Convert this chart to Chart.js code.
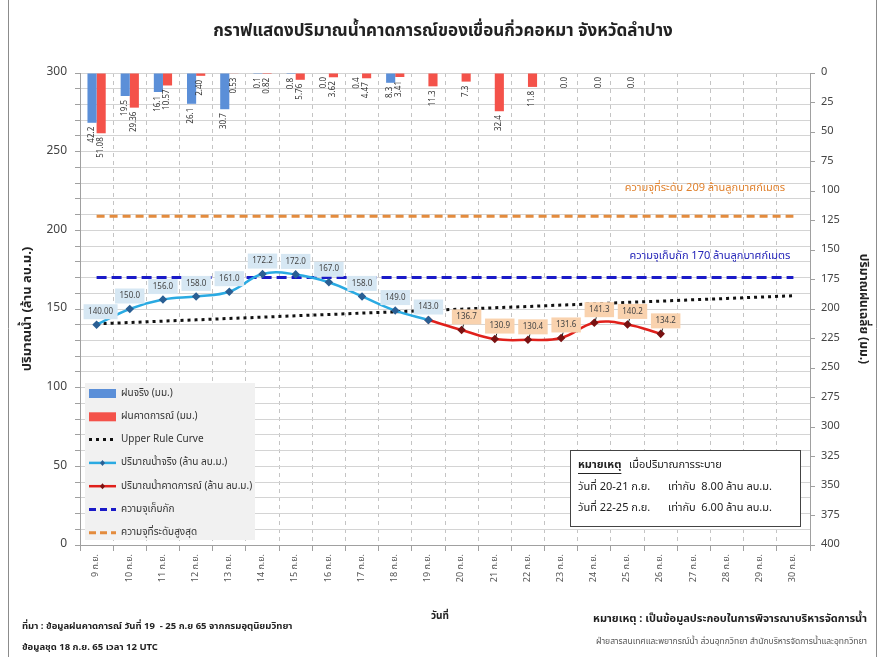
<!DOCTYPE html>
<html>
<head>
<meta charset="utf-8">
<script src="https://cdn.jsdelivr.net/npm/chart.js@4.4.0/dist/chart.umd.min.js"></script>
<style>
  html, body { margin: 0; padding: 0; background: #fff; }
  #wrap { width: 882px; height: 657px; position: relative; }
  canvas { display: block; }
</style>
</head>
<body>
<div id="wrap"><canvas id="damChart" width="882" height="657"></canvas></div>
<script>
// วันที่ (แกน X)
const days = ["9 ก.ย.", "10 ก.ย.", "11 ก.ย.", "12 ก.ย.", "13 ก.ย.", "14 ก.ย.", "15 ก.ย.", "16 ก.ย.",
  "17 ก.ย.", "18 ก.ย.", "19 ก.ย.", "20 ก.ย.", "21 ก.ย.", "22 ก.ย.", "23 ก.ย.", "24 ก.ย.", "25 ก.ย.",
  "26 ก.ย.", "27 ก.ย.", "28 ก.ย.", "29 ก.ย.", "30 ก.ย."];

// ฝน (มม.) แกนขวา
const rainActual = [42.2, 19.5, 16.1, 26.1, 30.7, 0.1, 0.8, 0.0, 0.4, 8.3, null,
  null, null, null, null, null, null, null, null, null, null, null];
const rainForecast = [51.08, 29.36, 10.57, 2.40, 0.53, 0.82, 5.76, 3.62, 4.47, 3.41, 11.3,
  7.3, 32.4, 11.8, 0.0, 0.0, 0.0, null, null, null, null, null];

// ปริมาณน้ำ (ล้าน ลบ.ม.) แกนซ้าย
const waterActual = [140.00, 150.0, 156.0, 158.0, 161.0, 172.2, 172.0, 167.0, 158.0, 149.0, 143.0,
  null, null, null, null, null, null, null, null, null, null, null];
const waterForecast = [null, null, null, null, null, null, null, null, null, null, 143.0,
  136.7, 130.9, 130.4, 131.6, 141.3, 140.2, 134.2, null, null, null, null];
const ruleCurve = [140.6, 141.4, 142.3, 143.1, 144.0, 144.8, 145.7, 146.5, 147.4, 148.2, 149.1,
  149.9, 150.8, 151.6, 152.5, 153.3, 154.2, 155.0, 155.9, 156.7, 157.6, 158.4];
const storageCap = [170, 170, 170, 170, 170, 170, 170, 170, 170, 170, 170,
  170, 170, 170, 170, 170, 170, 170, 170, 170, 170, 170];
const maxLevel = [209, 209, 209, 209, 209, 209, 209, 209, 209, 209, 209,
  209, 209, 209, 209, 209, 209, 209, 209, 209, 209, 209];

const FONT = "Tahoma, 'Noto Sans Thai', 'Noto Sans', sans-serif";
Chart.defaults.font.family = FONT;
Chart.defaults.color = "#444";

const BLUE_BAR = "#5b8fd8";
const RED_BAR = "#f4524a";

// ป้ายค่าฝนแนวตั้งใต้แท่ง
const barLabels = {
  id: "barLabels",
  afterDatasetsDraw(chart) {
    const ctx = chart.ctx;
    ctx.save();
    ctx.font = "8px " + FONT;
    ctx.fillStyle = "#333";
    ctx.textAlign = "right";
    ctx.textBaseline = "middle";
    chart.data.datasets.forEach((ds, di) => {
      if (ds.type !== "bar") return;
      const meta = chart.getDatasetMeta(di);
      meta.data.forEach((bar, i) => {
        const v = ds.data[i];
        if (v === null) return;
        const digits = (ds.label === "ฝนคาดการณ์ (มม.)" && i < 10) ? 2 : 1;
        ctx.save();
        ctx.translate(bar.x, bar.y + 4);
        ctx.rotate(-Math.PI / 2);
        ctx.fillText(v.toFixed(digits), 0, 0);
        ctx.restore();
      });
    });
    ctx.restore();
  }
};

// กล่องค่าปริมาณน้ำเหนือจุด
const pointLabels = {
  id: "pointLabels",
  afterDatasetsDraw(chart) {
    const ctx = chart.ctx;
    ctx.save();
    ctx.font = "8px " + FONT;
    ctx.textAlign = "center";
    ctx.textBaseline = "middle";
    const draw = (di, fill, skip, dx, leader) => {
      const ds = chart.data.datasets[di];
      const meta = chart.getDatasetMeta(di);
      meta.data.forEach((pt, i) => {
        const v = ds.data[i];
        if (v === null || skip(i)) return;
        const txt = v.toFixed(i === 0 ? 2 : 1);
        const w = ctx.measureText(txt).width + 9;
        const h = 15;
        const cx = pt.x + dx + (i === 0 ? 4 : 0);
        const cy = pt.y - 13;
        if (leader) {
          ctx.strokeStyle = "#222";
          ctx.lineWidth = 1;
          ctx.beginPath();
          ctx.moveTo(pt.x + 1, pt.y - 2);
          ctx.lineTo(cx - 3, cy + h / 2);
          ctx.stroke();
        }
        ctx.fillStyle = fill;
        ctx.fillRect(cx - w / 2, cy - h / 2, w, h);
        ctx.fillStyle = "#444";
        ctx.fillText(txt, cx, cy + 0.5);
      });
    };
    draw(3, "#d6e7f3", () => false, 0, false);
    draw(4, "#f9d2ae", i => waterActual[i] !== null, 5, true);
    ctx.restore();
  }
};

// legend กล่องเทา, ข้อความประกอบ, หัวเรื่อง และท้ายกราฟ
const decorations = {
  id: "decorations",
  afterDraw(chart) {
    const ctx = chart.ctx;
    ctx.save();

    // กรอบหน้า
    ctx.strokeStyle = "#8c8c8c";
    ctx.lineWidth = 1;
    ctx.beginPath();
    ctx.moveTo(8.5, 0); ctx.lineTo(8.5, 657);
    ctx.moveTo(876.5, 0); ctx.lineTo(876.5, 657);
    ctx.stroke();

    // หัวเรื่อง
    ctx.fillStyle = "#222";
    ctx.font = "bold 17px " + FONT;
    ctx.textAlign = "center";
    ctx.textBaseline = "middle";
    ctx.fillText("กราฟแสดงปริมาณน้ำคาดการณ์ของเขื่อนกิ่วคอหมา จังหวัดลำปาง", 443, 33);

    // ข้อความเส้นระดับ
    ctx.font = "11px " + FONT;
    ctx.fillStyle = "#e0822f";
    ctx.fillText("ความจุที่ระดับ 209 ล้านลูกบาศก์เมตร", 705, 189);
    ctx.fillStyle = "#2323b8";
    ctx.fillText("ความจุเก็บกัก 170 ล้านลูกบาศก์เมตร", 710, 257);

    // legend
    const lx = 85, ly = 383;
    ctx.fillStyle = "#f1f1f1";
    ctx.fillRect(lx, ly, 170, 157);
    const rows = [
      { text: "ฝนจริง (มม.)", kind: "bar", color: BLUE_BAR },
      { text: "ฝนคาดการณ์ (มม.)", kind: "bar", color: RED_BAR },
      { text: "Upper Rule Curve", kind: "line", color: "#111", dash: [3, 4], width: 3 },
      { text: "ปริมาณน้ำจริง (ล้าน ลบ.ม.)", kind: "line", color: "#2aaae2", width: 2.5, marker: "#2a5f94" },
      { text: "ปริมาณน้ำคาดการณ์ (ล้าน ลบ.ม.)", kind: "line", color: "#e0201b", width: 2.5, marker: "#7a1212" },
      { text: "ความจุเก็บกัก", kind: "line", color: "#1a1ac8", dash: [7, 4], width: 3 },
      { text: "ความจุที่ระดับสูงสุด", kind: "line", color: "#e38b3d", dash: [7, 4], width: 3 }
    ];
    ctx.textAlign = "left";
    rows.forEach((r, k) => {
      const y = ly + 10 + k * 23.3;
      if (r.kind === "bar") {
        ctx.fillStyle = r.color;
        ctx.fillRect(lx + 4, y - 4, 27, 9);
      } else {
        ctx.strokeStyle = r.color;
        ctx.lineWidth = r.width;
        ctx.setLineDash(r.dash || []);
        ctx.beginPath();
        ctx.moveTo(lx + 4, y);
        ctx.lineTo(lx + 31, y);
        ctx.stroke();
        ctx.setLineDash([]);
        if (r.marker) {
          ctx.fillStyle = r.marker;
          ctx.beginPath();
          ctx.moveTo(lx + 17.5, y - 3);
          ctx.lineTo(lx + 20, y);
          ctx.lineTo(lx + 17.5, y + 3);
          ctx.lineTo(lx + 15, y);
          ctx.closePath();
          ctx.fill();
        }
      }
      ctx.fillStyle = "#333";
      ctx.font = "10px " + FONT;
      ctx.fillText(r.text, lx + 36, y + 0.5);
    });

    // กล่องหมายเหตุการระบาย
    ctx.fillStyle = "#fff";
    ctx.fillRect(570, 450, 230, 76);
    ctx.strokeStyle = "#444";
    ctx.lineWidth = 1;
    ctx.strokeRect(570.5, 450.5, 230, 76);
    ctx.fillStyle = "#222";
    ctx.font = "bold 11px " + FONT;
    ctx.fillText("หมายเหตุ", 578, 466);
    const uw = ctx.measureText("หมายเหตุ").width;
    ctx.fillRect(578, 473, uw, 1);
    ctx.font = "11px " + FONT;
    ctx.fillText("เมื่อปริมาณการระบาย", 629, 466);
    ctx.fillText("วันที่ 20-21 ก.ย.", 578, 488);
    ctx.fillText("เท่ากับ  8.00 ล้าน ลบ.ม.", 668, 488);
    ctx.fillText("วันที่ 22-25 ก.ย.", 578, 509);
    ctx.fillText("เท่ากับ  6.00 ล้าน ลบ.ม.", 668, 509);

    // ชื่อแกน X
    ctx.textAlign = "center";
    ctx.font = "bold 10px " + FONT;
    ctx.fillText("วันที่", 440, 617);

    // ท้ายกราฟ
    ctx.textAlign = "left";
    ctx.font = "bold 9.5px " + FONT;
    ctx.fillText("ที่มา : ข้อมูลฝนคาดการณ์ วันที่ 19  - 25 ก.ย 65 จากกรมอุตุนิยมวิทยา", 22, 627);
    ctx.fillText("ข้อมูลชุด 18 ก.ย. 65 เวลา 12 UTC", 22, 648);
    ctx.textAlign = "right";
    ctx.font = "bold 11px " + FONT;
    ctx.fillText("หมายเหตุ : เป็นข้อมูลประกอบในการพิจารณาบริหารจัดการน้ำ", 867, 620);
    ctx.font = "8.5px " + FONT;
    ctx.fillStyle = "#555";
    ctx.fillText("ฝ่ายสารสนเทศและพยากรณ์น้ำ ส่วนอุทกวิทยา สำนักบริหารจัดการน้ำและอุทกวิทยา", 867, 642);

    ctx.restore();
  }
};

new Chart(document.getElementById("damChart"), {
  data: {
    labels: days,
    datasets: [
      {
        type: "line", label: "Upper Rule Curve", data: ruleCurve, yAxisID: "y",
        borderColor: "#111", borderWidth: 3, borderDash: [3, 4], pointRadius: 0, order: 3
      },
      {
        type: "line", label: "ความจุเก็บกัก", data: storageCap, yAxisID: "y",
        borderColor: "#1a1ac8", borderWidth: 3, borderDash: [10, 5], pointRadius: 0, order: 4
      },
      {
        type: "line", label: "ความจุที่ระดับสูงสุด", data: maxLevel, yAxisID: "y",
        borderColor: "#e38b3d", borderWidth: 3, borderDash: [8, 5], pointRadius: 0, order: 5
      },
      {
        type: "line", label: "ปริมาณน้ำจริง (ล้าน ลบ.ม.)", data: waterActual, yAxisID: "y",
        borderColor: "#2aaae2", borderWidth: 2.5, tension: 0.4,
        pointStyle: "rectRot", pointRadius: 2.5, pointBackgroundColor: "#2a5f94",
        pointBorderColor: "#2a5f94", order: 1
      },
      {
        type: "line", label: "ปริมาณน้ำคาดการณ์ (ล้าน ลบ.ม.)", data: waterForecast, yAxisID: "y",
        borderColor: "#e0201b", borderWidth: 2.5, tension: 0.4,
        pointStyle: "rectRot", pointRadius: 2.5, pointBackgroundColor: "#7a1212",
        pointBorderColor: "#7a1212", order: 2
      },
      {
        type: "bar", label: "ฝนจริง (มม.)", data: rainActual, yAxisID: "y2",
        backgroundColor: BLUE_BAR, categoryPercentage: 0.55, barPercentage: 1.0, order: 6
      },
      {
        type: "bar", label: "ฝนคาดการณ์ (มม.)", data: rainForecast, yAxisID: "y2",
        backgroundColor: RED_BAR, categoryPercentage: 0.55, barPercentage: 1.0, order: 7
      }
    ]
  },
  options: {
    responsive: false,
    animation: false,
    layout: { padding: { top: 73, left: 0, right: 0, bottom: 0 } },
    plugins: {
      legend: { display: false },
      tooltip: { enabled: false },
      title: { display: false }
    },
    scales: {
      x: {
        type: "category",
        offset: true,
        grid: { offset: true, color: "#c4c4c4", tickLength: 6, tickColor: "#a0a0a0" },
        border: { color: "#a0a0a0", dash: [4, 4] },
        ticks: { minRotation: 90, maxRotation: 90, autoSkip: false, font: { size: 9 }, color: "#555" },
        afterFit: s => { s.height = 112; }
      },
      y: {
        position: "left",
        min: 0, max: 300,
        grid: { color: "#d4d4d4", tickLength: 5, tickColor: "#a0a0a0" },
        border: { color: "#a0a0a0" },
        ticks: {
          stepSize: 10, autoSkip: false, padding: 8, font: { size: 12 }, color: "#444",
          callback: v => (v % 50 === 0 ? v : "")
        },
        title: {
          display: true, text: "ปริมาณน้ำ (ล้าน ลบ.ม.)", padding: { top: 21, bottom: 0 },
          font: { size: 13, weight: "bold" }, color: "#222"
        },
        afterFit: s => { s.width = 80; }
      },
      y2: {
        position: "right",
        reverse: true,
        min: 0, max: 400,
        grid: { drawOnChartArea: false, tickLength: 5, tickColor: "#a0a0a0" },
        border: { color: "#a0a0a0" },
        ticks: { stepSize: 25, autoSkip: false, padding: 6, font: { size: 11 }, color: "#444" },
        title: {
          display: true, text: "ปริมาณฝนเฉลี่ย (มม.)", padding: { top: 12, bottom: 0 },
          font: { size: 12, weight: "bold" }, color: "#222"
        },
        afterFit: s => { s.width = 72; }
      }
    }
  },
  plugins: [barLabels, pointLabels, decorations]
});
</script>
</body>
</html>
